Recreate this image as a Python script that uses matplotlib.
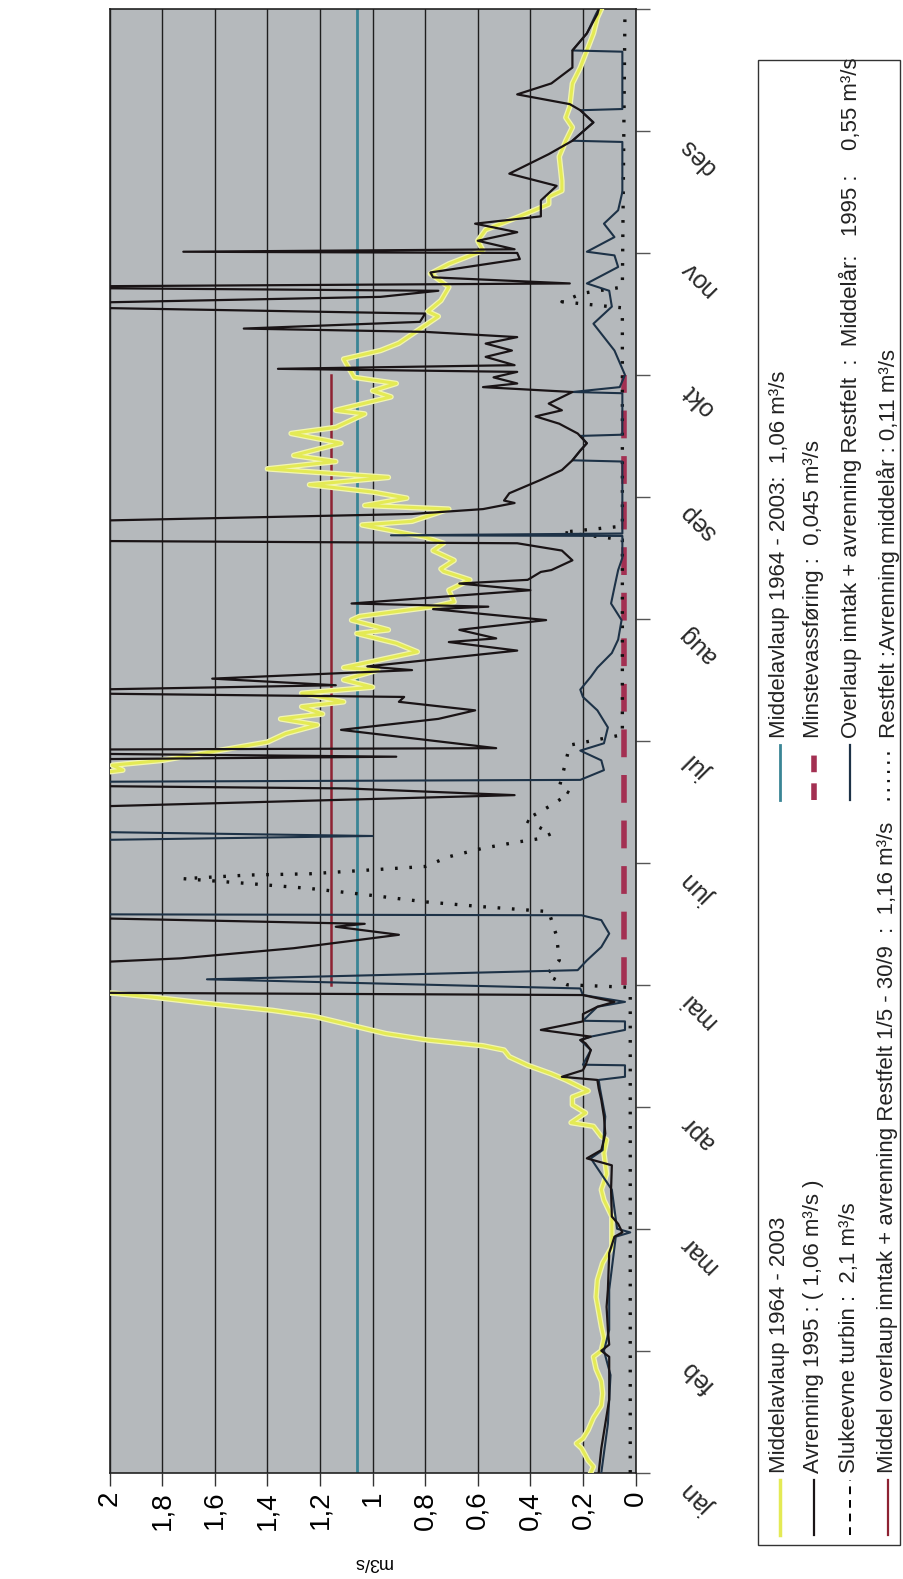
import matplotlib.pyplot as plt
import numpy as np
from matplotlib.lines import Line2D
from matplotlib.patches import Rectangle

plt.rcParams['font.family'] = ['Liberation Sans', 'DejaVu Sans']

W, H = 904, 1579

# tid i månader (0 = 1. jan, 12 = 31. des), verdiar i m3/s
mnd = ['jan', 'feb', 'mar', 'apr', 'mai', 'jun', 'jul', 'aug', 'sep', 'okt', 'nov', 'des']
verdi_ticks = [0, 0.2, 0.4, 0.6, 0.8, 1.0, 1.2, 1.4, 1.6, 1.8, 2.0]
verdi_txt = ['0', '0,2', '0,4', '0,6', '0,8', '1', '1,2', '1,4', '1,6', '1,8', '2']

# Middelavlaup 1964 - 2003 (gul)
middel_t = [0.00, 0.05, 0.10, 0.20, 0.24, 0.28, 0.35, 0.45, 0.55, 0.65, 0.75, 0.85, 0.95, 1.00, 1.10,
            1.20, 1.44, 1.58, 1.72, 1.85, 1.98, 2.10, 2.235, 2.32, 2.45, 2.62, 2.73, 2.755, 2.84, 2.87,
            2.95, 3.015, 3.08, 3.13, 3.22, 3.27, 3.34, 3.41, 3.465, 3.50, 3.547, 3.60, 3.657, 3.74, 3.79,
            3.85, 3.90, 3.93, 3.97, 4.20, 5.00, 5.60, 5.72, 5.76, 5.80, 5.84, 5.99, 6.06, 6.13, 6.18,
            6.22, 6.28, 6.32, 6.39, 6.44, 6.50, 6.58, 6.60, 6.73, 6.80, 6.88, 6.91, 6.99, 7.02, 7.10,
            7.14, 7.235, 7.32, 7.39, 7.41, 7.48, 7.56, 7.62, 7.67, 7.77, 7.80, 7.90, 7.93, 7.99, 8.04,
            8.10, 8.16, 8.23, 8.29, 8.34, 8.44, 8.52, 8.57, 8.68, 8.71, 8.82, 8.87, 8.93, 8.98, 9.13,
            9.20, 9.26, 9.48, 9.52, 9.61, 9.72, 9.83, 9.91, 10.02, 10.10, 10.19, 10.30, 10.40, 10.46, 10.51,
            10.59, 10.79, 10.92, 11.03, 11.11, 11.20, 11.39, 11.52, 11.66, 11.80, 11.93, 12.00]
middel_v = [0.17, 0.16, 0.18, 0.205, 0.225, 0.20, 0.18, 0.16, 0.13, 0.125, 0.13, 0.15, 0.16, 0.13, 0.12,
            0.13, 0.15, 0.145, 0.125, 0.09, 0.09, 0.09, 0.12, 0.13, 0.11, 0.12, 0.11, 0.13, 0.16, 0.245,
            0.19, 0.24, 0.24, 0.18, 0.265, 0.32, 0.41, 0.48, 0.50, 0.58, 0.79, 0.95, 1.06, 1.22, 1.38,
            1.64, 1.84, 1.98, 2.3, 2.8, 3.0, 2.5, 2.1, 1.95, 1.99, 1.80, 1.40, 1.33, 1.21, 1.35,
            1.19, 1.27, 1.11, 1.27, 1.00, 1.11, 0.98, 1.11, 0.83, 0.91, 1.06, 0.94, 1.08, 1.05, 0.77,
            0.69, 0.71, 0.63, 0.73, 0.74, 0.69, 0.77, 0.73, 0.80, 1.04, 0.85, 0.71, 1.03, 0.87, 1.00,
            1.24, 0.94, 1.40, 1.14, 1.30, 1.12, 1.31, 1.14, 1.03, 1.14, 0.93, 1.00, 0.91, 1.07, 1.11,
            0.97, 0.90, 0.75, 0.79, 0.74, 0.71, 0.78, 0.71, 0.58, 0.60, 0.57, 0.44, 0.33, 0.33, 0.28,
            0.28, 0.29, 0.265, 0.24, 0.265, 0.25, 0.24, 0.21, 0.185, 0.16, 0.145, 0.13]

# Avrenning 1995 (svart)
avr95_t = [0.00, 0.20, 0.40, 0.60, 0.80, 0.95, 1.00, 1.05, 1.17, 1.36, 1.50, 1.80, 1.935, 1.97, 2.04,
           2.10, 2.32, 2.52, 2.577, 2.645, 2.73, 2.78, 2.92, 3.055, 3.15, 3.22, 3.246, 3.30, 3.34, 3.465,
           3.52, 3.547, 3.575, 3.63, 3.70, 3.76, 3.82, 3.86, 3.916, 3.94, 4.14, 4.16, 4.217, 4.30, 4.41,
           4.476, 4.50, 4.57, 5.43, 5.555, 5.61, 5.64, 5.84, 5.87, 5.905, 5.925, 5.94, 6.09, 6.18, 6.25,
           6.32, 6.36, 6.40, 6.456, 6.51, 6.58, 6.61, 6.74, 6.81, 6.84, 6.91, 6.99, 7.08, 7.10, 7.126,
           7.235, 7.29, 7.32, 7.385, 7.40, 7.48, 7.56, 7.62, 7.645, 7.78, 7.86, 7.90, 7.95, 7.97, 8.03,
           8.14, 8.22, 8.30, 8.38, 8.44, 8.52, 8.60, 8.66, 8.71, 8.765, 8.86, 8.90, 8.93, 8.98, 9.025,
           9.05, 9.08, 9.148, 9.20, 9.257, 9.31, 9.353, 9.38, 9.435, 9.503, 9.57, 9.64, 9.69, 9.72, 9.75,
           9.80, 9.84, 9.95, 10.00, 10.01, 10.03, 10.10, 10.17, 10.24, 10.30, 10.43, 10.55, 10.65, 10.81, 10.92,
           11.07, 11.17, 11.22, 11.30, 11.39, 11.52, 11.66, 11.80, 11.96, 12.00]
avr95_v = [0.14, 0.13, 0.115, 0.10, 0.10, 0.10, 0.13, 0.10, 0.105, 0.11, 0.105, 0.10, 0.08, 0.05, 0.066,
           0.09, 0.093, 0.09, 0.185, 0.13, 0.12, 0.115, 0.12, 0.13, 0.14, 0.145, 0.28, 0.20, 0.19, 0.17,
           0.19, 0.21, 0.17, 0.36, 0.20, 0.20, 0.145, 0.08, 0.20, 2.6, 2.6, 2.3, 1.73, 1.30, 0.90,
           1.14, 1.03, 2.6, 2.6, 0.46, 1.10, 2.6, 2.6, 0.91, 2.6, 2.6, 0.53, 1.12, 0.75, 0.61,
           0.90, 0.88, 2.6, 1.14, 1.61, 0.85, 1.02, 0.45, 0.71, 0.53, 0.67, 0.34, 0.77, 0.56, 1.08,
           0.40, 0.67, 0.41, 0.36, 0.32, 0.24, 0.28, 0.45, 2.6, 2.6, 0.85, 0.58, 0.46, 0.50, 0.48,
           0.36, 0.28, 0.24, 0.21, 0.185, 0.22, 0.29, 0.38, 0.28, 0.33, 0.24, 0.58, 0.45, 0.54, 0.45,
           1.36, 0.46, 0.57, 0.47, 0.57, 0.45, 0.80, 1.49, 0.82, 0.80, 2.6, 0.97, 0.75, 2.6, 0.25,
           0.77, 0.78, 0.44, 0.45, 1.72, 0.46, 0.60, 0.45, 0.61, 0.36, 0.36, 0.30, 0.48, 0.33, 0.24,
           0.16, 0.21, 0.25, 0.45, 0.32, 0.24, 0.24, 0.185, 0.145, 0.14]

# Overlaup inntak + avrenning Restfelt, 1995 (mørk blå)
overl_t = [0.00, 0.40, 0.80, 1.00, 1.17, 1.50, 1.935, 1.97, 2.00, 2.32, 2.577, 2.645, 2.92, 3.15, 3.22,
           3.246, 3.34, 3.345, 3.465, 3.547, 3.575, 3.63, 3.70, 3.705, 3.82, 3.86, 3.916, 3.97, 4.045, 4.12,
           4.20, 4.31, 4.42, 4.53, 4.57, 4.58, 5.17, 5.22, 5.27, 5.66, 5.68, 5.76, 5.84, 5.92, 5.98,
           6.11, 6.25, 6.36, 6.42, 6.525, 6.60, 6.72, 6.83, 6.99, 7.126, 7.26, 7.40, 7.50, 7.68, 7.685,
           7.70, 8.29, 8.30, 8.38, 8.44, 8.50, 8.51, 8.85, 8.86, 8.90, 9.00, 9.20, 9.42, 9.56, 9.69,
           9.75, 9.885, 9.98, 10.01, 10.13, 10.24, 10.35, 10.50, 10.91, 10.92, 11.07, 11.17, 11.18, 11.65, 11.66,
           11.80, 11.96, 12.00]
overl_v = [0.13, 0.105, 0.095, 0.12, 0.10, 0.10, 0.075, 0.02, 0.07, 0.09, 0.17, 0.125, 0.115, 0.135, 0.14,
           0.04, 0.04, 0.20, 0.17, 0.21, 0.17, 0.04, 0.04, 0.20, 0.145, 0.04, 0.20, 0.21, 1.63, 0.22,
           0.185, 0.13, 0.10, 0.13, 0.205, 2.6, 2.6, 1.00, 2.6, 2.6, 0.21, 0.12, 0.13, 0.21, 0.12,
           0.105, 0.145, 0.20, 0.21, 0.17, 0.145, 0.09, 0.066, 0.053, 0.093, 0.08, 0.066, 0.05, 0.05, 0.93,
           0.05, 0.05, 0.24, 0.21, 0.185, 0.21, 0.05, 0.05, 0.24, 0.06, 0.04, 0.08, 0.16, 0.09, 0.10,
           0.185, 0.066, 0.08, 0.185, 0.08, 0.12, 0.066, 0.05, 0.05, 0.24, 0.16, 0.21, 0.05, 0.05, 0.24,
           0.185, 0.15, 0.14]

# Restfelt: avrenning middelår (prikka)
rest_t = [0.00, 3.90, 3.98, 4.00, 4.08, 4.20, 4.40, 4.60, 4.64, 4.68, 4.74, 4.79, 4.83, 4.87, 4.90,
          4.91, 4.97, 5.05, 5.12, 5.17, 5.20, 5.24, 5.35, 5.46, 5.57, 5.62, 5.70, 5.965, 6.05, 7.65,
          7.71, 7.76, 9.55, 9.60, 9.67, 9.72, 12.00]
rest_v = [0.02, 0.02, 0.03, 0.26, 0.34, 0.29, 0.30, 0.33, 0.58, 0.80, 1.03, 1.24, 1.47, 1.72, 1.47,
          1.24, 0.80, 0.71, 0.58, 0.45, 0.36, 0.32, 0.42, 0.33, 0.25, 0.29, 0.28, 0.25, 0.05, 0.05,
          0.28, 0.05, 0.05, 0.28, 0.20, 0.05, 0.04]

middelavlaup = 1.06
middel_overlaup = 1.16
minstevf = 0.045
slukeevne = 2.1
periode = [4, 9]   # 1/5 - 30/9

fig = plt.figure(figsize=(W / 100, H / 100), dpi=100)
ax = fig.add_axes([109.7 / W, 1 - 1472.7 / H, (635.5 - 109.7) / W, (1472.7 - 9) / H])
ax.set_facecolor('#b5b9bc')
ax.set_xlim(2, 0)
ax.set_ylim(0, 12)

ax.set_xticks(verdi_ticks)
ax.set_xticklabels(verdi_txt, rotation=90, fontsize=20)
ax.tick_params(axis='x', direction='out', length=9, width=1, pad=4, color='#333333')
ax.grid(axis='x', color='#1e1e1e', lw=1.0)
ax.set_axisbelow(True)

ax.yaxis.set_ticks_position('right')
ax.set_yticks(range(13))
ax.set_yticklabels([])
ax.tick_params(axis='y', direction='out', length=10, width=1, color='#555555')
for i, m in enumerate(mnd):
    ax.text(1.119, i - 0.21, m, transform=ax.get_yaxis_transform(), rotation=135,
            ha='center', va='center', fontsize=18, color='#2a2a2a')

for s in ax.spines.values():
    s.set_color('#222222')
    s.set_linewidth(1.2)

# faste linjer
ax.plot([middelavlaup, middelavlaup], [0, 12], color='#3a8595', lw=2.0, zorder=2)
ax.plot([middel_overlaup, middel_overlaup], periode, color='#8e2232', lw=1.8, zorder=2)
ax.plot([minstevf, minstevf], periode, color='#a33052', lw=4, dashes=(5, 3.2), zorder=3)
ax.plot([slukeevne, slukeevne], [0, 12], color='black', lw=1.2, dashes=(4, 3))

ax.plot(middel_v, middel_t, color='#f2f5b0', lw=4.0, solid_joinstyle='round', zorder=4)
ax.plot(middel_v, middel_t, color='#e4ea55', lw=2.2, solid_joinstyle='round', zorder=4)
ax.plot(rest_v, rest_t, color='#111111', lw=2.4, dashes=(0.8, 3.5), zorder=5)
ax.plot(overl_v, overl_t, color='#1d3247', lw=1.5, zorder=5)
ax.plot(avr95_v, avr95_t, color='#1a1416', lw=1.6, zorder=6)

fig.text(372 / W, 1 - 1562 / H, 'm3/s', rotation=180, ha='center', va='center', fontsize=13)

# teiknforklaring
fig.add_artist(Rectangle((758 / W, 1 - 1545 / H), (900 - 758) / W, (1545 - 60) / H,
                         transform=fig.transFigure, fill=False, edgecolor='#333333', lw=1))

oppf = [
    (780, 1535, 'Middelavlaup 1964 - 2003', dict(color='#e4ea55', lw=2.5)),
    (814, 1535, 'Avrenning 1995 : ( 1,06 m³/s )', dict(color='#1a1416', lw=1.6)),
    (850, 1535, 'Slukeevne turbin :  2,1 m³/s', dict(color='black', lw=1.4, dashes=(4, 3))),
    (888, 1535, 'Middel overlaup inntak + avrenning Restfelt 1/5 - 30/9  :  1,16 m³/s', dict(color='#8e2232', lw=1.6)),
    (780, 800, 'Middelavlaup 1964 - 2003:  1,06 m³/s', dict(color='#3a8595', lw=2.0)),
    (814, 800, 'Minstevassføring :  0,045 m³/s', dict(color='#a33052', lw=4, dashes=(3, 2))),
    (850, 800, 'Overlaup inntak + avrenning Restfelt  :  Middelår:   1995 :    0,55 m³/s', dict(color='#1d3247', lw=1.6)),
    (888, 800, 'Restfelt :Avrenning middelår : 0,11 m³/s', dict(color='#111111', lw=2, dashes=(0.8, 2.5))),
]
for x, y0, txt, stil in oppf:
    fig.add_artist(Line2D([x / W, x / W], [1 - y0 / H, 1 - (y0 - 55) / H], transform=fig.transFigure, **stil))
    fig.text(x / W, 1 - (y0 - 62) / H, txt, rotation=90, rotation_mode='anchor',
             ha='left', va='center', fontsize=16, color='#222222')

fig.savefig('out.png', dpi=100, facecolor='white')
